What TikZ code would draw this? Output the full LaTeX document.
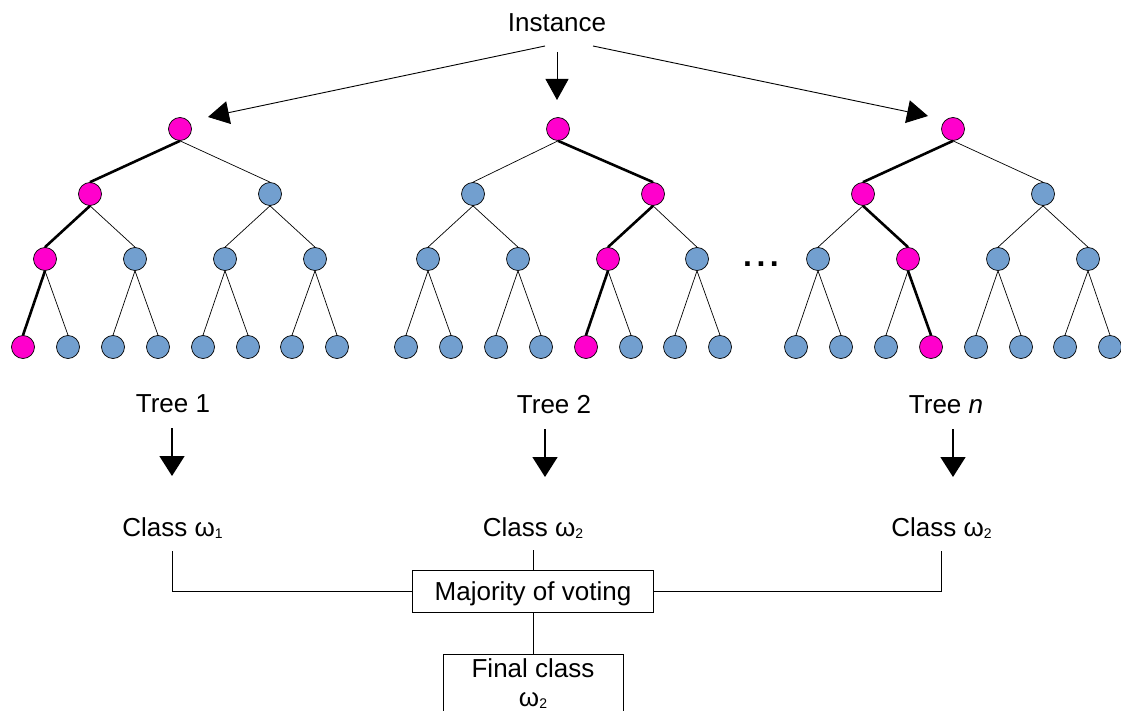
\documentclass[tikz,border=0pt]{standalone}
\usepackage{fontspec}
\setmainfont{Liberation Sans}
\usetikzlibrary{arrows.meta}
\definecolor{leafblue}{HTML}{729FCF}
\definecolor{hitpink}{HTML}{FF00CC}
\newcommand{\lowidx}[1]{\raisebox{-2pt}{\fontsize{14}{14}\selectfont #1}}

\begin{document}
\begin{tikzpicture}[x=1pt,y=-1pt]

\tikzset{vertex/.style = {shape=circle,draw,line width=0.7pt,fill=leafblue,minimum size=23pt,inner sep=0pt}}
\tikzset{hit/.style = {vertex,fill=hitpink}}
\tikzset{link/.style = {line width=0.7pt}}
\tikzset{walk/.style = {line width=2.6pt}}
\tikzset{arc/.style = {-{Triangle[length=21pt,width=23pt]},line width=0.9pt}}
\tikzset{down/.style = {-{Triangle[length=20pt,width=25pt]},line width=1.6pt}}
\tikzset{txt/.style = {font=\fontsize{26}{30}\selectfont,anchor=base,inner sep=0pt,text depth=0pt}}
\tikzset{box/.style = {draw,line width=0.7pt,font=\fontsize{26}{30}\selectfont,inner sep=0pt}}

\useasboundingbox (0,0) rectangle (1121,711);

% tree 1
\node[hit] (a1) at (180,129) {};
\node[hit] (a2) at (90,194) {};
\node[vertex] (a3) at (270,194) {};
\node[hit] (a4) at (45,259) {};
\node[vertex] (a5) at (135,259) {};
\node[vertex] (a6) at (225,259) {};
\node[vertex] (a7) at (315,259) {};
\node[hit] (a8) at (23,347) {};
\node[vertex] (a9) at (68,347) {};
\node[vertex] (a10) at (113,347) {};
\node[vertex] (a11) at (158,347) {};
\node[vertex] (a12) at (203,347) {};
\node[vertex] (a13) at (248,347) {};
\node[vertex] (a14) at (292,347) {};
\node[vertex] (a15) at (337,347) {};

% tree 2
\node[hit] (b1) at (558,129) {};
\node[vertex] (b2) at (473,194) {};
\node[hit] (b3) at (653,194) {};
\node[vertex] (b4) at (428,259) {};
\node[vertex] (b5) at (518,259) {};
\node[hit] (b6) at (608,259) {};
\node[vertex] (b7) at (697,259) {};
\node[vertex] (b8) at (406,347) {};
\node[vertex] (b9) at (451,347) {};
\node[vertex] (b10) at (496,347) {};
\node[vertex] (b11) at (541,347) {};
\node[hit] (b12) at (586,347) {};
\node[vertex] (b13) at (631,347) {};
\node[vertex] (b14) at (675,347) {};
\node[vertex] (b15) at (720,347) {};

% tree n
\node[hit] (c1) at (953,129) {};
\node[hit] (c2) at (863,194) {};
\node[vertex] (c3) at (1043,194) {};
\node[vertex] (c4) at (818,259) {};
\node[hit] (c5) at (908,259) {};
\node[vertex] (c6) at (998,259) {};
\node[vertex] (c7) at (1088,259) {};
\node[vertex] (c8) at (796,347) {};
\node[vertex] (c9) at (841,347) {};
\node[vertex] (c10) at (886,347) {};
\node[hit] (c11) at (931,347) {};
\node[vertex] (c12) at (976,347) {};
\node[vertex] (c13) at (1021,347) {};
\node[vertex] (c14) at (1065,347) {};
\node[vertex] (c15) at (1110,347) {};

% texts
\node[txt] (inst) at (557,32) {Instance};
\node[txt,font=\fontsize{32}{32}\selectfont\bfseries] (dots) at (761,266) {.\kern4.5pt.\kern4.5pt.};
\node[txt] (t1) at (173,412) {Tree 1};
\node[txt] (t2) at (554,413) {Tree 2};
\node[txt] (t3) at (946,413) {Tree \textit{n}};
\node[txt] (k1) at (172.5,536) {Class ω\lowidx{1}};
\node[txt] (k2) at (533,536) {Class ω\lowidx{2}};
\node[txt] (k3) at (941.5,536) {Class ω\lowidx{2}};
\node[box,minimum width=241pt,minimum height=42pt,text depth=0pt] (vote) at (533,591) {Majority of voting};
\node[box,anchor=north,minimum width=180pt,inner ysep=4pt,align=center] (final) at (533,654) {Final class\\[-1pt]ω\lowidx{2}};

% arrow ends
\coordinate (i1) at (545,46);
\coordinate (r1) at (208,117);
\coordinate (i2) at (557,52);
\coordinate (r2) at (557,100);
\coordinate (i3) at (593,46);
\coordinate (r3) at (928,116);
\coordinate (d1) at (172,428);
\coordinate (e1) at (172,476);
\coordinate (d2) at (545,429);
\coordinate (e2) at (545,477);
\coordinate (d3) at (953,429);
\coordinate (e3) at (953,477);

% arcs
\draw[arc] (i1) to (r1);
\draw[arc] (i2) to (r2);
\draw[arc] (i3) to (r3);
\draw[down] (d1) to (e1);
\draw[down] (d2) to (e2);
\draw[down] (d3) to (e3);

% edges tree 1
\draw[walk] (a1.south) to (a2.north);
\draw[link] (a1.south) to (a3.north);
\draw[walk] (a2.south) to (a4.north);
\draw[link] (a2.south) to (a5.north);
\draw[link] (a3.south) to (a6.north);
\draw[link] (a3.south) to (a7.north);
\draw[walk] (a4.south) to (a8.north);
\draw[link] (a4.south) to (a9.north);
\draw[link] (a5.south) to (a10.north);
\draw[link] (a5.south) to (a11.north);
\draw[link] (a6.south) to (a12.north);
\draw[link] (a6.south) to (a13.north);
\draw[link] (a7.south) to (a14.north);
\draw[link] (a7.south) to (a15.north);

% edges tree 2
\draw[link] (b1.south) to (b2.north);
\draw[walk] (b1.south) to (b3.north);
\draw[link] (b2.south) to (b4.north);
\draw[link] (b2.south) to (b5.north);
\draw[walk] (b3.south) to (b6.north);
\draw[link] (b3.south) to (b7.north);
\draw[link] (b4.south) to (b8.north);
\draw[link] (b4.south) to (b9.north);
\draw[link] (b5.south) to (b10.north);
\draw[link] (b5.south) to (b11.north);
\draw[walk] (b6.south) to (b12.north);
\draw[link] (b6.south) to (b13.north);
\draw[link] (b7.south) to (b14.north);
\draw[link] (b7.south) to (b15.north);

% edges tree n
\draw[walk] (c1.south) to (c2.north);
\draw[link] (c1.south) to (c3.north);
\draw[link] (c2.south) to (c4.north);
\draw[walk] (c2.south) to (c5.north);
\draw[link] (c3.south) to (c6.north);
\draw[link] (c3.south) to (c7.north);
\draw[link] (c4.south) to (c8.north);
\draw[link] (c4.south) to (c9.north);
\draw[link] (c5.south) to (c10.north);
\draw[walk] (c5.south) to (c11.north);
\draw[link] (c6.south) to (c12.north);
\draw[link] (c6.south) to (c13.north);
\draw[link] (c7.south) to (c14.north);
\draw[link] (c7.south) to (c15.north);

% voting
\draw[link,shorten <=15pt] (k1.south) |- (vote.west);
\draw[link,shorten <=14pt] (k2.south) to (vote.north);
\draw[link,shorten <=15pt] (k3.south) |- (vote.east);
\draw[link] (vote.south) to (final.north);

\end{tikzpicture}
\end{document}
